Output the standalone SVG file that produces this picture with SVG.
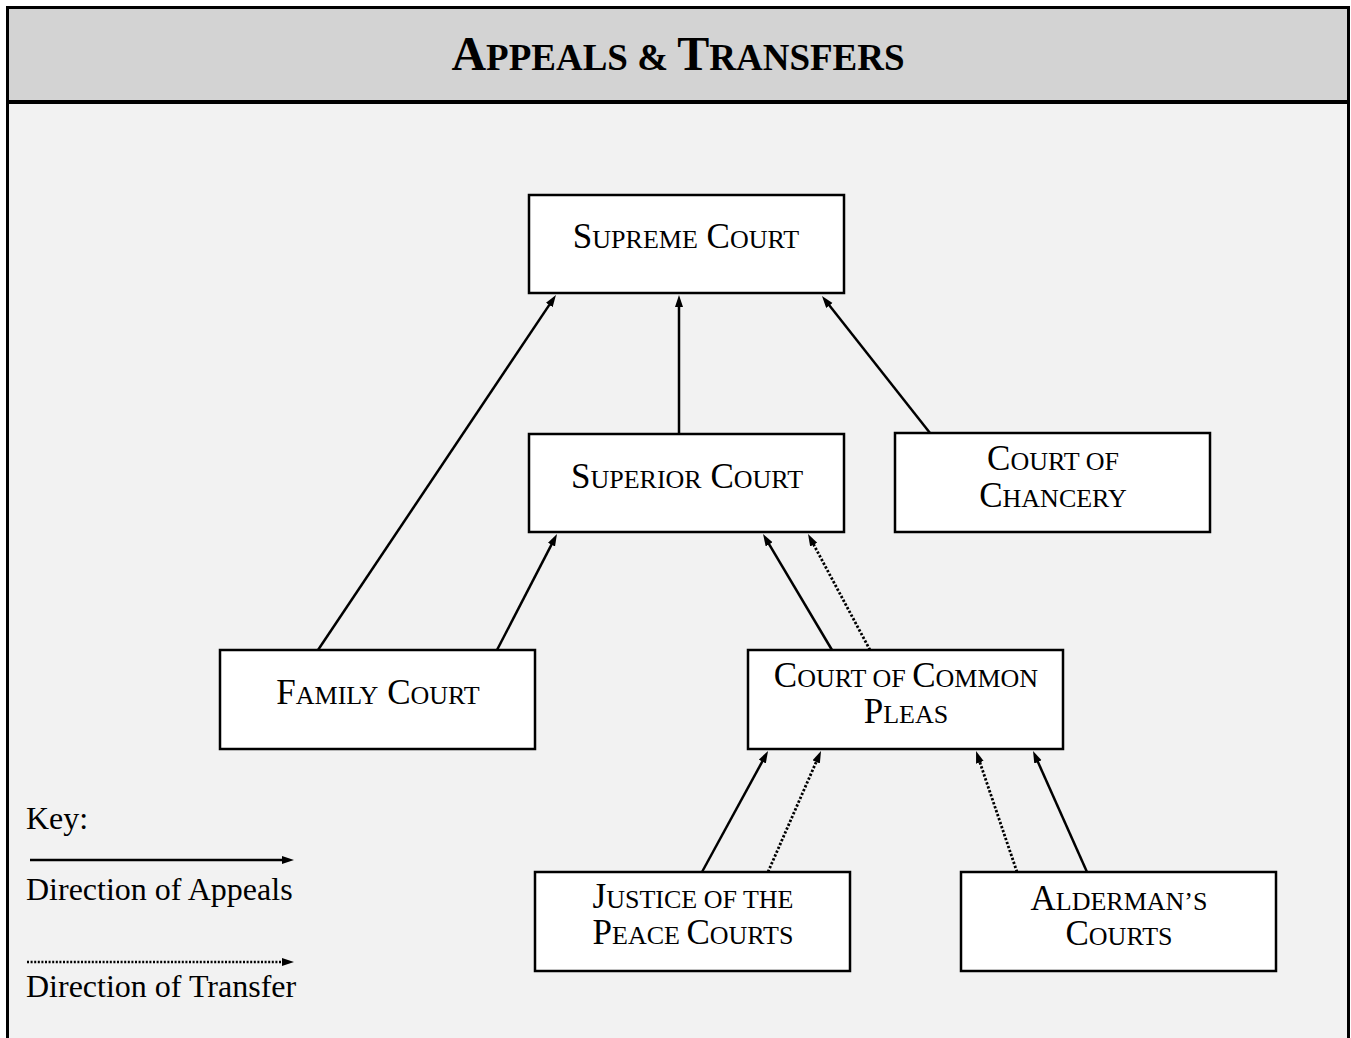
<svg xmlns="http://www.w3.org/2000/svg" width="1351" height="1038" viewBox="0 0 1351 1038">
<style>
.node rect{fill:#fff;stroke:#000;stroke-width:2.5}
.node text{font-family:"Liberation Serif","Times New Roman",serif;fill:#000;text-anchor:middle}
.b{font-size:35px}
.s{font-size:26px}
.conn line{stroke:#000;stroke-width:2.5;fill:none;marker-end:url(#ah)}
.conn line.t{stroke-width:2.8;stroke-dasharray:2.4 1.8}
.key{font-family:"Liberation Serif","Times New Roman",serif;font-size:32px;fill:#000}
</style>
<defs>
<marker id="ah" markerUnits="userSpaceOnUse" markerWidth="13" markerHeight="9" refX="4" refY="4" orient="auto">
<path d="M0,0 L12,4 L0,8 z" fill="#000"/>
</marker>
</defs>
<rect x="9" y="9" width="1338" height="1029" fill="#f2f2f2"/>
<rect x="9" y="9" width="1338" height="91" fill="#d3d3d3"/>
<line x1="9" y1="102" x2="1347" y2="102" stroke="#000" stroke-width="4"/>
<path d="M7.5,1038 V7.5 H1348.5 V1038" fill="none" stroke="#000" stroke-width="3"/>
<text x="678" y="70" font-family="Liberation Serif,Times New Roman,serif" font-weight="bold" text-anchor="middle" fill="#000"><tspan font-size="48">A</tspan><tspan font-size="37">PPEALS &amp; </tspan><tspan font-size="48">T</tspan><tspan font-size="37">RANSFERS</tspan></text>

<g id="connectors" class="conn">
<line x1="318" y1="650" x2="551.5" y2="301.6"/>
<line x1="679" y1="434" x2="679" y2="303"/>
<line x1="930" y1="433" x2="826.9" y2="302.3"/>
<line x1="497" y1="650" x2="553.3" y2="541.1"/>
<line x1="832" y1="650" x2="767.1" y2="540.9"/>
<line class="t" x1="870" y1="650" x2="811.8" y2="541.1"/>
<line x1="702" y1="872" x2="764.2" y2="758"/>
<line class="t" x1="768" y1="872" x2="817.8" y2="758.3"/>
<line class="t" x1="1017" y1="872" x2="978.6" y2="758.6"/>
<line x1="1087" y1="872" x2="1036.3" y2="758.3"/>
</g>

<g id="supreme" class="node">
<rect x="529" y="195" width="315" height="98"/>
<text x="686" y="248"><tspan class="b">S</tspan><tspan class="s">UPREME</tspan><tspan class="b"> C</tspan><tspan class="s">OURT</tspan></text>
</g>
<g id="superior" class="node">
<rect x="529" y="434" width="315" height="98"/>
<text x="687" y="488"><tspan class="b">S</tspan><tspan class="s">UPERIOR</tspan><tspan class="b"> C</tspan><tspan class="s">OURT</tspan></text>
</g>
<g id="chancery" class="node">
<rect x="895" y="433" width="315" height="99"/>
<text x="1053" y="470"><tspan class="b">C</tspan><tspan class="s">OURT OF</tspan></text>
<text x="1053" y="507"><tspan class="b">C</tspan><tspan class="s">HANCERY</tspan></text>
</g>
<g id="family" class="node">
<rect x="220" y="650" width="315" height="99"/>
<text x="378" y="704"><tspan class="b">F</tspan><tspan class="s">AMILY</tspan><tspan class="b"> C</tspan><tspan class="s">OURT</tspan></text>
</g>
<g id="common-pleas" class="node">
<rect x="748" y="650" width="315" height="99"/>
<text x="906" y="687"><tspan class="b">C</tspan><tspan class="s">OURT OF </tspan><tspan class="b">C</tspan><tspan class="s">OMMON</tspan></text>
<text x="906" y="723"><tspan class="b">P</tspan><tspan class="s">LEAS</tspan></text>
</g>
<g id="justice" class="node">
<rect x="535" y="872" width="315" height="99"/>
<text x="693" y="908"><tspan class="b">J</tspan><tspan class="s">USTICE OF THE</tspan></text>
<text x="693" y="944"><tspan class="b">P</tspan><tspan class="s">EACE </tspan><tspan class="b">C</tspan><tspan class="s">OURTS</tspan></text>
</g>
<g id="alderman" class="node">
<rect x="961" y="872" width="315" height="99"/>
<text x="1119" y="910"><tspan class="b">A</tspan><tspan class="s">LDERMAN’S</tspan></text>
<text x="1119" y="945"><tspan class="b">C</tspan><tspan class="s">OURTS</tspan></text>
</g>

<g id="key">
<text class="key" x="26" y="829">Key:</text>
<line x1="30" y1="860" x2="286" y2="860" stroke="#000" stroke-width="2.5" marker-end="url(#ah)"/>
<text class="key" x="26" y="900">Direction of Appeals</text>
<line x1="27" y1="962" x2="286" y2="962" stroke="#000" stroke-width="2.5" stroke-dasharray="2 1.6" marker-end="url(#ah)"/>
<text class="key" x="26" y="997">Direction of Transfer</text>
</g>
</svg>
